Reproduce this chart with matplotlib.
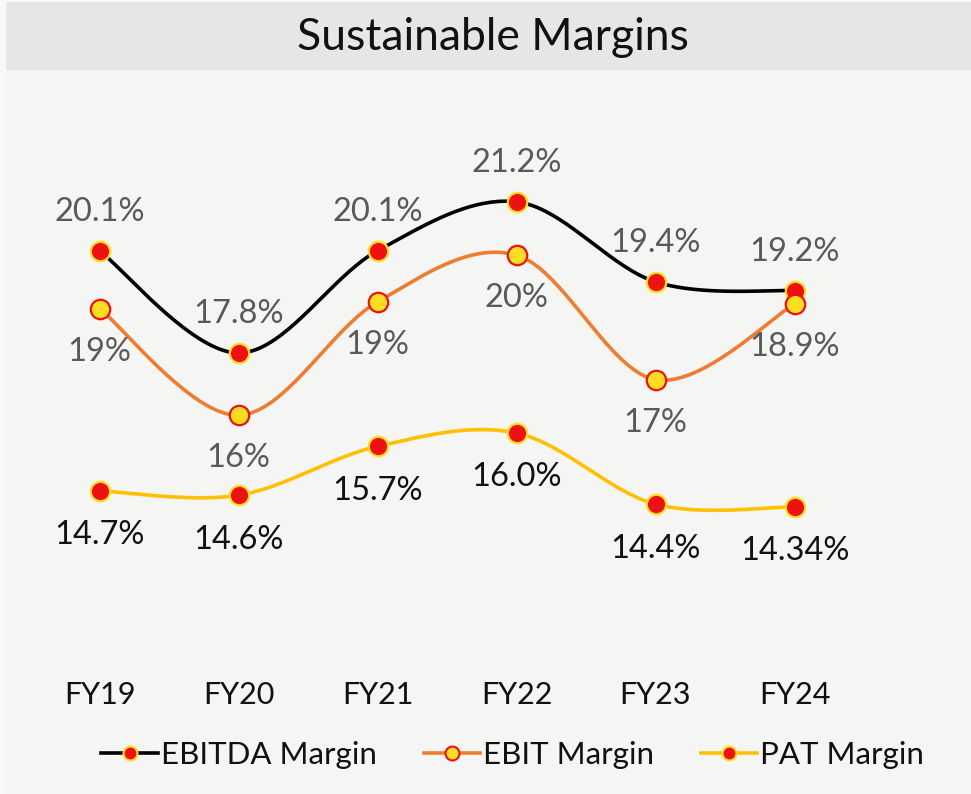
import matplotlib.pyplot as plt
import numpy as np
from matplotlib.lines import Line2D
from matplotlib.patches import Rectangle

# Chart data (values as plotted; labels as printed on the chart)
years = ['FY19', 'FY20', 'FY21', 'FY22', 'FY23', 'FY24']
ebitda = [20.1, 17.8, 20.1, 21.2, 19.4, 19.2]
ebit = [18.8, 16.4, 18.95, 20.0, 17.2, 18.9]
pat = [14.7, 14.6, 15.7, 16.0, 14.4, 14.34]
ebitda_labels = ['20.1%', '17.8%', '20.1%', '21.2%', '19.4%', '19.2%']
ebit_labels = ['19%', '16%', '19%', '20%', '17%', '18.9%']
pat_labels = ['14.7%', '14.6%', '15.7%', '16.0%', '14.4%', '14.34%']

BG = '#f5f5f3'
TITLE_BG = '#e6e6e6'
RED = '#ee1111'
YEL = '#ffdd22'
plt.rcParams['font.family'] = ['Lato', 'DejaVu Sans']


def smooth(x, y, n=40):
    """Excel-style smoothed line: cubic Bezier with Catmull-Rom control points."""
    x = np.asarray(x, float)
    y = np.asarray(y, float)
    pts = np.column_stack([x, y])
    ext = np.vstack([pts[0], pts, pts[-1]])
    out = []
    t = np.linspace(0, 1, n)[:, None]
    for i in range(len(pts) - 1):
        p0, p1, p2, p3 = ext[i], ext[i + 1], ext[i + 2], ext[i + 3]
        c1 = p1 + (p2 - p0) / 6
        c2 = p2 - (p3 - p1) / 6
        seg = ((1 - t) ** 3) * p1 + 3 * ((1 - t) ** 2) * t * c1 \
            + 3 * (1 - t) * t ** 2 * c2 + t ** 3 * p2
        out.append(seg)
    out = np.vstack(out)
    return out[:, 0], out[:, 1]


W, H = 971, 794
fig = plt.figure(figsize=(W / 100, H / 100), dpi=100, facecolor='#f8f8f8')
fig.patches.append(Rectangle((6 / W, 0), 1, 1 - 70 / H, transform=fig.transFigure,
                             facecolor=BG, edgecolor='none', zorder=-2))
fig.patches.append(Rectangle((6 / W, 1 - 70 / H), 1, 68 / H, transform=fig.transFigure,
                             facecolor=TITLE_BG, edgecolor='none', zorder=-1))
fig.text(0.508, 1 - 37 / H, 'Sustainable Margins', ha='center', va='center',
         fontsize=32, color='#111111')

# axes placed in pixels: x from 30 to 864, y from 100 to 670
ax = fig.add_axes([30 / W, 1 - 670 / H, 834 / W, 570 / H])
ax.set_facecolor('none')
ax.set_xlim(-0.5, 5.5)
ax.set_ylim(10.67, 23.49)
ax.axis('off')

x = np.arange(len(years))
series = [
    (ebitda, ebitda_labels, 'black', RED, YEL, 'EBITDA Margin', 14, '#595959'),
    (ebit, ebit_labels, '#ed7d31', YEL, RED, 'EBIT Margin', -15.5, '#595959'),
    (pat, pat_labels, '#ffc000', RED, YEL, 'PAT Margin', -16, '#111111'),
]
handles = []
for vals, labs, lc, fc, ec, name, off, tc in series:
    sx, sy = smooth(x, vals)
    ax.plot(sx, sy, color=lc, lw=2.6, zorder=2, solid_capstyle='round')
    ax.plot(x, vals, 'o', ms=14, mfc=fc, mec=ec, mew=1.6, zorder=3)
    for xi, v, lab in zip(x, vals, labs):
        ax.annotate(lab, (xi, v), xytext=(0, off * 2), textcoords='offset points',
                    ha='center', va='center', fontsize=23.5, color=tc)
    handles.append(Line2D([0], [0], color=lc, lw=2.6, marker='o', ms=10,
                          mfc=fc, mec=ec, mew=1.5, label=name))

for xi, yr in zip(x, years):
    fig.text((30 + 834 * (xi + 0.5) / 6) / W, 1 - 695 / H, yr, ha='center',
             va='center', fontsize=22, color='#111111')

fig.legend(handles=handles, loc='center', bbox_to_anchor=(0.528, 1 - 755 / H),
           ncol=3, frameon=False, fontsize=22.5, handlelength=1.8,
           handletextpad=0.1, columnspacing=1.5, labelcolor='#111111')

fig.savefig('out.png', dpi=100, facecolor=fig.get_facecolor())
